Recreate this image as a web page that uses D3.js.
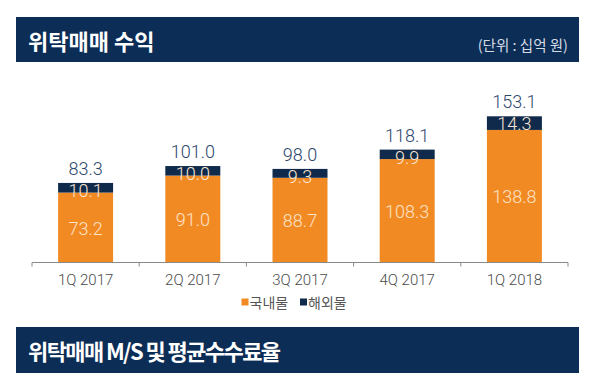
<!DOCTYPE html>
<html><head><meta charset="utf-8">
<script src="https://cdn.jsdelivr.net/npm/d3@7"></script>
<style>
html,body{margin:0;padding:0;background:#fff;}
svg{display:block;}
</style></head>
<body>
<svg id="c" width="598" height="390"></svg>
<script>
const categories = ["1Q 2017","2Q 2017","3Q 2017","4Q 2017","1Q 2018"];
const domestic = [73.2, 91.0, 88.7, 108.3, 138.8];
const overseas = [10.1, 10.0, 9.3, 9.9, 14.3];
const totals = [83.3, 101.0, 98.0, 118.1, 153.1];
const seriesNames = ["국내물","해외물"];
const title1 = "위탁매매 수익";
const unitText = "(단위 : 십억 원)";
const title2 = "위탁매매 M/S 및 평균수수료율";

const NAVY = "#0c2d56", BAR_NAVY = "#102a4c", ORANGE = "#f28a24";
const KR = "'Noto Sans CJK KR','Noto Sans',sans-serif";
const NUM = "Roboto,'Noto Sans',sans-serif";

const svg = d3.select("#c");

// Banners
function banner(y0, h, txt, ls){
  svg.append("rect").attr("x",16).attr("y",y0).attr("width",563).attr("height",h).attr("fill",NAVY);
  svg.append("text").attr("x",28).attr("y",y0+33).attr("fill","#fff")
    .attr("font-family",KR).attr("font-weight",700).attr("font-size",22)
    .attr("letter-spacing",ls).text(txt);
}
banner(17, 45, title1, 0);
svg.append("text").attr("x",568).attr("y",51).attr("text-anchor","end").attr("fill","#d5dbe5")
  .attr("font-family",KR).attr("font-size",14.5).text(unitText);
banner(327, 46, title2, -1.6);

// Scales
const x = d3.scaleBand().domain(categories).range([32,568]).paddingInner(0.487).paddingOuter(0.2435);
const y = d3.scaleLinear().domain([0,160]).range([262.5, 262.5-152.8]);

const stack = d3.stack().keys([0,1]).value((d,k)=>d[k]);
const rows = categories.map((c,i)=>({cat:c, 0:domestic[i], 1:overseas[i]}));
const layers = stack(rows);
const colors = [ORANGE, BAR_NAVY];

svg.append("g").selectAll("g").data(layers).join("g").attr("fill",(d,i)=>colors[i])
  .selectAll("rect").data(d=>d).join("rect")
  .attr("x",d=>x(d.data.cat)).attr("width",x.bandwidth())
  .attr("y",d=>y(d[1])).attr("height",d=>y(d[0])-y(d[1]));

// Axis
const axisG = svg.append("g").attr("transform","translate(0,262.5)");
axisG.append("line").attr("x1",32).attr("x2",568).attr("stroke","#8a8a8a").attr("stroke-width",1);
const bounds = d3.range(categories.length+1).map(i=>32 + i*(536/categories.length));
axisG.selectAll("line.t").data(bounds).join("line").attr("class","t")
  .attr("x1",d=>d).attr("x2",d=>d).attr("y1",0).attr("y2",4).attr("stroke","#8a8a8a");
axisG.selectAll("text").data(categories).join("text")
  .attr("x",d=>x(d)+x.bandwidth()/2).attr("y",22).attr("text-anchor","middle")
  .attr("fill","#4a4a4a").attr("font-family",NUM).attr("font-weight",300).attr("font-size",15).text(d=>d);

// Labels
const cx = c=>x(c)+x.bandwidth()/2;
svg.append("g").selectAll("text").data(categories).join("text")
  .attr("x",cx).attr("y",(c,i)=>y(totals[i])-8).attr("text-anchor","middle")
  .attr("fill","#2c476c").attr("font-family",NUM).attr("font-weight",300).attr("font-size",18)
  .text((c,i)=>totals[i].toFixed(1));
svg.append("g").selectAll("text").data(categories).join("text")
  .attr("x",cx).attr("y",(c,i)=>y(domestic[i]+overseas[i])+14).attr("text-anchor","middle")
  .attr("fill","#fbe6d2").attr("font-family",NUM).attr("font-weight",300).attr("font-size",18)
  .text((c,i)=>overseas[i].toFixed(1));
svg.append("g").selectAll("text").data(categories).join("text")
  .attr("x",cx).attr("y",(c,i)=>(y(0)+y(domestic[i]))/2+7).attr("text-anchor","middle")
  .attr("fill","#fde3c8").attr("font-family",NUM).attr("font-weight",300).attr("font-size",18)
  .text((c,i)=>domestic[i].toFixed(1));

// Legend
const leg = svg.append("g");
const legX = [241.5, 300];
seriesNames.forEach((n,i)=>{
  leg.append("rect").attr("x",legX[i]).attr("y",298.5).attr("width",7).attr("height",7).attr("fill",colors[i]);
  leg.append("text").attr("x",legX[i]+8).attr("y",307.5).attr("fill","#555")
    .attr("font-family",KR).attr("font-size",14).text(n);
});
</script>
</body></html>
